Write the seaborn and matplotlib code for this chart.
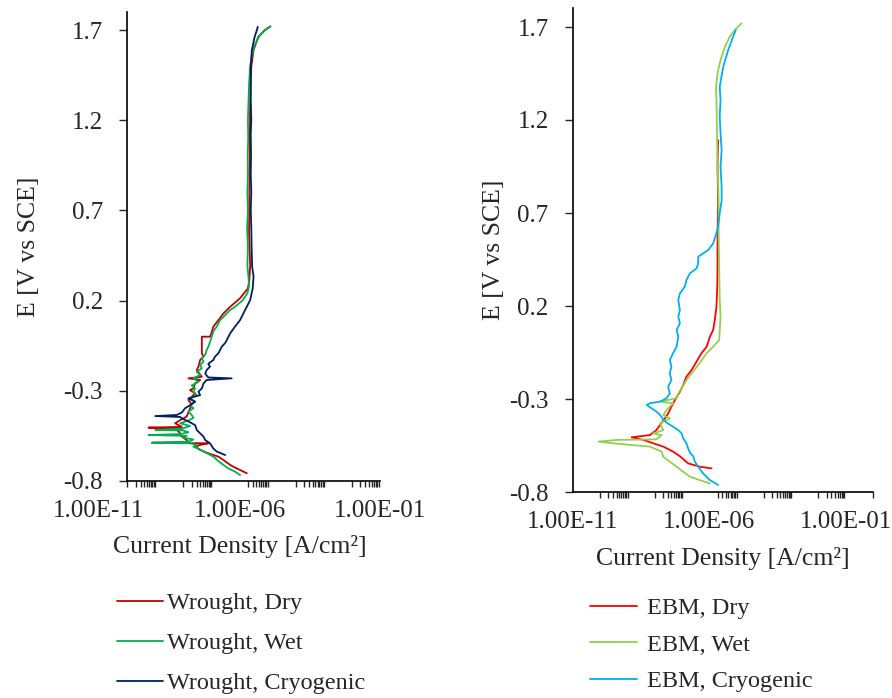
import numpy as np
import matplotlib
matplotlib.use("Agg")
import matplotlib.pyplot as plt
import seaborn as sns
from matplotlib.ticker import FixedLocator, NullFormatter

# potentiodynamic polarisation curves, E in V vs SCE, current as log10(A/cm2)
# cathodic end first

wr_dry_E = [-0.757, -0.739, -0.721, -0.711, -0.684, -0.665, -0.650, -0.628, -0.610, -0.600,
            -0.591, -0.588, -0.585, -0.573, -0.554, -0.536, -0.517, -0.508, -0.504, -0.500,
            -0.480, -0.462, -0.443, -0.420, -0.397, -0.375, -0.351, -0.333, -0.314, -0.296,
            -0.286, -0.259, -0.240, -0.231, -0.222, -0.185, -0.166, -0.129, -0.110, -0.092,
            0.000, 0.000, 0.019, 0.056, 0.092, 0.129, 0.166, 0.213, 0.268, 0.314,
            0.388, 0.573, 0.758, 0.942, 1.127, 1.312, 1.497, 1.589, 1.663, 1.700, 1.720]
wr_dry_logi = [-5.74, -5.98, -6.22, -6.33, -6.57, -6.75, -7.05, -7.40, -7.58, -7.40,
               -7.11, -9.12, -7.82, -7.88, -8.05, -8.11, -8.23, -8.11, -9.24, -8.05,
               -8.29, -8.11, -7.88, -7.82, -7.76, -7.70, -7.82, -7.70, -7.58, -7.76,
               -7.64, -7.58, -7.40, -7.82, -7.34, -7.52, -7.46, -7.40, -7.28, -7.34,
               -7.34, -7.05, -7.00, -6.93, -6.75, -6.57, -6.33, -5.98, -5.70, -5.65,
               -5.62, -5.66, -5.65, -5.64, -5.63, -5.62, -5.58, -5.50, -5.33, -5.10, -4.91]

wr_wet_E = [-0.767, -0.748, -0.730, -0.711, -0.690, -0.665, -0.650, -0.637, -0.620, -0.610,
            -0.600, -0.591, -0.588, -0.582, -0.570, -0.560, -0.550, -0.545, -0.540, -0.530,
            -0.520, -0.517, -0.510, -0.495, -0.480, -0.465, -0.450, -0.434, -0.415, -0.397,
            -0.380, -0.360, -0.342, -0.324, -0.305, -0.286, -0.270, -0.250, -0.231, -0.212,
            -0.195, -0.175, -0.157, -0.138, -0.120, -0.100, -0.075, -0.055, -0.030, 0.000,
            0.030, 0.056, 0.092, 0.110, 0.129, 0.148, 0.166, 0.200, 0.240, 0.280,
            0.330, 0.400, 0.500, 0.600, 0.700, 0.800, 0.900, 1.000, 1.100, 1.200,
            1.300, 1.400, 1.500, 1.560, 1.620, 1.670, 1.700, 1.720]
wr_wet_logi = [-5.98, -6.16, -6.40, -6.57, -6.75, -6.93, -7.11, -7.28, -7.46, -7.64,
               -7.52, -7.76, -9.12, -7.82, -7.64, -8.00, -7.88, -9.24, -8.11, -7.82,
               -8.00, -9.00, -8.05, -7.76, -8.11, -7.82, -7.64, -7.70, -7.82, -7.64,
               -7.76, -7.58, -7.76, -7.52, -7.64, -7.58, -7.70, -7.46, -7.64, -7.40,
               -7.52, -7.34, -7.40, -7.28, -7.34, -7.22, -7.17, -7.11, -7.05, -6.99,
               -6.93, -6.81, -6.69, -6.57, -6.45, -6.33, -6.16, -5.90, -5.72, -5.66,
               -5.68, -5.72, -5.70, -5.73, -5.70, -5.72, -5.70, -5.71, -5.69, -5.70,
               -5.68, -5.66, -5.62, -5.56, -5.45, -5.28, -5.08, -4.89]

wr_cryo_E = [-0.656, -0.637, -0.620, -0.591, -0.573, -0.554, -0.536, -0.517, -0.490, -0.465,
             -0.453, -0.445, -0.440, -0.434, -0.420, -0.397, -0.380, -0.360, -0.342, -0.324,
             -0.305, -0.286, -0.259, -0.240, -0.231, -0.226, -0.205, -0.185, -0.166, -0.150,
             -0.129, -0.110, -0.092, -0.073, -0.055, -0.035, -0.018, 0.019, 0.056, 0.092,
             0.148, 0.203, 0.268, 0.333, 0.388, 0.500, 0.600, 0.700, 0.800, 0.900,
             1.000, 1.127, 1.200, 1.312, 1.400, 1.497, 1.589, 1.663, 1.700, 1.718]
wr_cryo_logi = [-6.51, -6.81, -6.93, -7.05, -7.22, -7.28, -7.40, -7.52, -7.58, -7.88,
                -8.05, -8.11, -9.00, -8.23, -8.05, -7.94, -7.76, -7.58, -7.82, -7.40,
                -7.46, -7.34, -7.28, -7.17, -6.28, -7.11, -7.22, -7.17, -7.05, -7.11,
                -6.93, -6.87, -6.75, -6.69, -6.63, -6.51, -6.45, -6.33, -6.16, -5.98,
                -5.80, -5.62, -5.53, -5.50, -5.55, -5.57, -5.58, -5.60, -5.58, -5.60,
                -5.59, -5.60, -5.58, -5.60, -5.60, -5.60, -5.56, -5.46, -5.38, -5.35]

ebm_dry_E = [-0.673, -0.664, -0.646, -0.608, -0.583, -0.556, -0.538, -0.520, -0.506, -0.494,
             -0.467, -0.440, -0.404, -0.377, -0.341, -0.305, -0.261, -0.225, -0.180, -0.144,
             -0.099, -0.054, -0.019, 0.035, 0.071, 0.125, 0.196, 0.304, 0.411, 0.591,
             0.769, 0.949, 1.092]
ebm_dry_logi = [-5.92, -6.35, -6.78, -7.08, -7.33, -7.69, -8.06, -8.42, -8.85, -8.18,
                -7.94, -7.81, -7.63, -7.51, -7.39, -7.26, -7.08, -6.96, -6.84, -6.65,
                -6.47, -6.29, -6.10, -5.98, -5.86, -5.80, -5.74, -5.71, -5.70, -5.70,
                -5.68, -5.70, -5.68]

ebm_wet_E = [-0.754, -0.736, -0.718, -0.691, -0.664, -0.637, -0.611, -0.583, -0.556, -0.540,
             -0.529, -0.520, -0.517, -0.494, -0.485, -0.467, -0.431, -0.404, -0.386, -0.359,
             -0.323, -0.314, -0.296, -0.270, -0.243, -0.198, -0.162, -0.117, -0.081, -0.054,
             -0.019, 0.017, 0.071, 0.143, 0.232, 0.411, 0.591, 0.769, 0.949, 1.128,
             1.308, 1.370, 1.451, 1.523, 1.594, 1.648, 1.684, 1.720]
ebm_wet_logi = [-5.98, -6.35, -6.71, -6.96, -7.20, -7.45, -7.69, -7.75, -8.18, -9.40,
                -10.07, -9.40, -7.94, -7.75, -8.06, -7.69, -7.81, -7.45, -7.69, -7.57,
                -7.33, -7.81, -7.20, -7.14, -7.02, -6.84, -6.65, -6.41, -6.23, -6.10,
                -5.86, -5.64, -5.62, -5.59, -5.62, -5.64, -5.66, -5.66, -5.70, -5.72,
                -5.74, -5.76, -5.70, -5.59, -5.43, -5.25, -5.06, -4.82]

ebm_cryo_E = [-0.762, -0.736, -0.700, -0.664, -0.637, -0.608, -0.590, -0.565, -0.538, -0.511,
              -0.485, -0.467, -0.449, -0.427, -0.409, -0.386, -0.368, -0.350, -0.332, -0.323,
              -0.314, -0.296, -0.270, -0.234, -0.198, -0.162, -0.126, -0.090, -0.054, -0.019,
              0.035, 0.071, 0.107, 0.143, 0.178, 0.232, 0.268, 0.304, 0.340, 0.376,
              0.402, 0.429, 0.465, 0.483, 0.501, 0.537, 0.591, 0.627, 0.698, 0.769,
              0.841, 0.949, 1.039, 1.128, 1.218, 1.308, 1.379, 1.487, 1.576, 1.648, 1.684]
ebm_cryo_logi = [-5.68, -5.98, -6.23, -6.41, -6.53, -6.59, -6.71, -6.78, -6.84, -6.96,
                 -7.02, -7.14, -7.33, -7.57, -7.69, -7.81, -7.94, -8.12, -8.30, -8.18,
                 -7.81, -7.57, -7.45, -7.51, -7.39, -7.45, -7.39, -7.45, -7.33, -7.20,
                 -7.14, -7.20, -7.08, -7.14, -7.08, -7.14, -7.08, -6.90, -6.84, -6.71,
                 -6.47, -6.41, -6.41, -6.23, -6.04, -5.86, -5.74, -5.68, -5.62, -5.55,
                 -5.55, -5.59, -5.55, -5.59, -5.62, -5.59, -5.62, -5.49, -5.31, -5.13, -5.03]

left_labels = ["Wrought, Dry", "Wrought, Wet", "Wrought, Cryogenic"]
right_labels = ["EBM, Dry", "EBM, Wet", "EBM, Cryogenic"]
left_colors = ["#C00000", "#00B050", "#002060"]
right_colors = ["#FF0000", "#92D050", "#00B0F0"]

y_ticks = [-0.8, -0.3, 0.2, 0.7, 1.2, 1.7]
x_label_ticks = [1e-11, 1e-6, 1e-1]
x_tick_text = ["1.00E-11", "1.00E-06", "1.00E-01"]

sns.set_style("white")
plt.rcParams['font.family'] = ['Liberation Serif', 'DejaVu Serif']
plt.rcParams['font.size'] = 18

W, H = 892, 698
fig = plt.figure(figsize=(W / 100, H / 100), dpi=100)
ax1 = fig.add_axes([99 / W, 1 - 481 / H, (380 - 99) / W, (481 - 12) / H])
ax2 = fig.add_axes([573 / W, 1 - 492 / H, (873 - 573) / W, (492 - 8.4) / H])


def draw(ax, curves, labels, colors, x0, x1, xmin, xmax):
    for (E, logi), lab, col in zip(curves, labels, colors):
        sns.lineplot(x=10 ** np.array(logi), y=E, sort=False, estimator=None,
                     color=col, lw=1.3, label=lab, ax=ax, legend=False)
    ax.set_xscale('log')
    ax.set_xlim(xmin, xmax)
    ax.set_ylim(-0.8, 1.8)
    for s in ['top', 'right']:
        ax.spines[s].set_visible(False)
    for s in ['left', 'bottom']:
        ax.spines[s].set_color('black')
        ax.spines[s].set_linewidth(1.2)
    ax.spines['left'].set_position(('data', x0))
    ax.spines['bottom'].set_bounds(x0, x1)
    ax.spines['left'].set_bounds(-0.8, 1.8)
    ax.set_yticks(y_ticks)
    ax.set_yticklabels([f"{v:.1f}" for v in y_ticks])
    ax.tick_params(axis='y', which='major', direction='out', length=6, width=1,
                   pad=11.5, labelsize=18, left=True)
    ax.set_xticks(x_label_ticks)
    ax.set_xticklabels(x_tick_text)
    minor = [k * 10.0 ** d for d in [-10, -8, -6, -4, -2] for k in range(1, 11)]
    minor = [m for m in minor if x0 * 0.999 <= m <= x1 * 1.001] + [x1]
    ax.xaxis.set_minor_locator(FixedLocator(minor))
    ax.xaxis.set_minor_formatter(NullFormatter())
    ax.tick_params(axis='x', which='major', length=0, pad=14, labelsize=18)
    ax.tick_params(axis='x', which='minor', direction='out', length=4, width=1,
                   bottom=True)
    ax.set_xlabel("Current Density [A/cm²]", fontsize=18.5)
    ax.set_ylabel("E [V vs SCE]", fontsize=18.5)
    ax.grid(False)


draw(ax1, [(wr_dry_E, wr_dry_logi), (wr_wet_E, wr_wet_logi), (wr_cryo_E, wr_cryo_logi)],
     left_labels, left_colors, 1e-10, 1e-1, 1e-11, 1e-1)
draw(ax2, [(ebm_dry_E, ebm_dry_logi), (ebm_wet_E, ebm_wet_logi), (ebm_cryo_E, ebm_cryo_logi)],
     right_labels, right_colors, 1e-11, 1e0, 1e-11, 1e0)

ax1.yaxis.set_label_coords(-0.21, 0.5)
ax2.yaxis.set_label_coords(-0.227, 0.5)
ax1.xaxis.set_label_coords(0.5, -0.115)
ax2.xaxis.set_label_coords(0.5, -0.114)

h1, l1 = ax1.get_legend_handles_labels()
h2, l2 = ax2.get_legend_handles_labels()
fig.legend(h1, l1, loc='upper left', bbox_to_anchor=(117 / W, 1 - 592 / H),
           frameon=False, fontsize=17.5, handlelength=1.9, handletextpad=0.17,
           labelspacing=0.74, borderpad=0, borderaxespad=0)
fig.legend(h2, l2, loc='upper left', bbox_to_anchor=(590 / W, 1 - 597 / H),
           frameon=False, fontsize=17.5, handlelength=1.95, handletextpad=0.4,
           labelspacing=0.6, borderpad=0, borderaxespad=0)

fig.savefig("out.png", dpi=100)
